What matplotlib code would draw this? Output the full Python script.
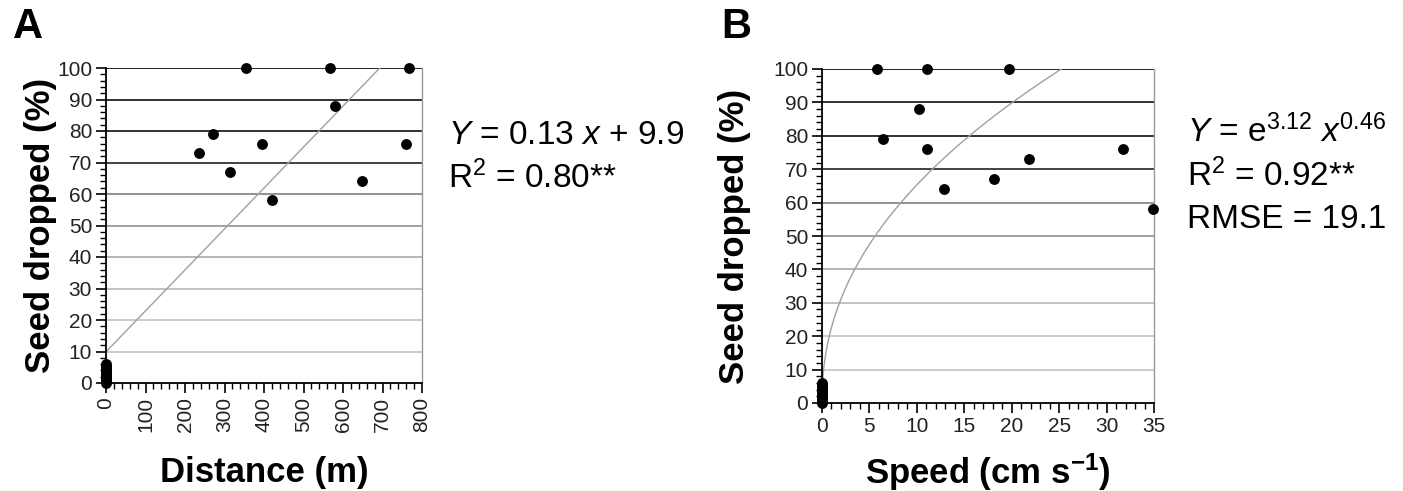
import numpy as np
import matplotlib.pyplot as plt
from matplotlib.ticker import MultipleLocator

plt.rcParams['font.family'] = ['Liberation Sans', 'DejaVu Sans']
plt.rcParams['mathtext.fontset'] = 'custom'
plt.rcParams['mathtext.rm'] = 'Liberation Sans'
plt.rcParams['mathtext.it'] = 'Liberation Sans:italic'
plt.rcParams['mathtext.bf'] = 'Liberation Sans:bold'

# panel A: distance travelled vs seed dropped
dist_x = [354, 567, 766, 581, 236, 270, 314, 394, 419, 649, 759,
          0, 0, 0, 0, 0, 0, 0, 0, 0, 0, 0, 0, 0]
dist_y = [100, 100, 100, 88, 73, 79, 67, 76, 58, 64, 76,
          0, 0.5, 1, 1.5, 2, 2.5, 3, 3.5, 4, 4.5, 5, 5.5, 6]
lin_slope, lin_icpt = 0.13, 9.9

# panel B: speed vs seed dropped
speed_x = [5.8, 11.1, 19.7, 10.25, 6.4, 11.1, 12.9, 18.1, 21.8, 31.7, 34.85,
           0, 0, 0, 0, 0, 0, 0, 0, 0, 0, 0, 0, 0]
speed_y = [100, 100, 100, 88, 79, 76, 64, 67, 73, 76, 58,
           0, 0.5, 1, 1.5, 2, 2.5, 3, 3.5, 4, 4.5, 5, 5.5, 6]
pow_a, pow_b = 3.12, 0.46

grid_levels = [10, 20, 30, 40, 50, 60, 70, 80, 90, 100]
grid_colors = ['#c8c8c8', '#c8c8c8', '#bdbdbd', '#b0b0b0', '#9a9a9a',
               '#8a8a8a', '#333333', '#222222', '#222222', '#111111']

fig = plt.figure(figsize=(14.03, 4.91), dpi=100)
axA = fig.add_axes([106 / 1403, 1 - 383 / 491, 316 / 1403, 315 / 491])
axB = fig.add_axes([822 / 1403, 1 - 403 / 491, 332 / 1403, 334 / 491])


def style_axes(ax, xmax, xmajor, xminor, ypad):
    ax.set_xlim(0, xmax)
    ax.set_ylim(0, 100)
    for lev, col in zip(grid_levels, grid_colors):
        ax.axhline(lev, color=col, lw=1.3, zorder=1)
    ax.spines['top'].set_visible(False)
    ax.spines['right'].set_color('#999999')
    ax.spines['right'].set_linewidth(1.0)
    ax.spines['left'].set_linewidth(1.3)
    ax.spines['bottom'].set_linewidth(1.3)
    ax.xaxis.set_major_locator(MultipleLocator(xmajor))
    ax.xaxis.set_minor_locator(MultipleLocator(xminor))
    ax.yaxis.set_major_locator(MultipleLocator(10))
    ax.yaxis.set_minor_locator(MultipleLocator(2))
    ax.tick_params(which='major', length=7, width=1.2, labelsize=15,
                   labelcolor='#222222', pad=3)
    ax.tick_params(which='minor', length=4, width=1.0)
    ax.set_ylabel('Seed dropped (%)', fontsize=25, fontweight='bold', labelpad=ypad)


# panel A
style_axes(axA, 800, 100, 20, 0)
xs = np.array([0, (100 - lin_icpt) / lin_slope])
axA.plot(xs, lin_slope * xs + lin_icpt, color='#a0a0a0', lw=1.0, zorder=2)
axA.plot(dist_x, dist_y, 'o', color='black', ms=6.8, clip_on=False, zorder=3)
axA.tick_params(axis='x', labelrotation=90)
axA.set_xlabel('Distance (m)', fontsize=25, fontweight='bold', labelpad=17)

# panel B
style_axes(axB, 35, 5, 1, 16)
xc = np.linspace(0, (100 / np.exp(pow_a)) ** (1 / pow_b), 300)
axB.plot(xc, np.exp(pow_a) * xc ** pow_b, color='#a0a0a0', lw=1.0, zorder=2)
axB.plot(speed_x, speed_y, 'o', color='black', ms=6.8, clip_on=False, zorder=3)
axB.set_xlabel('Speed (cm s$^{\\mathbf{-1}}$)', fontsize=25, fontweight='bold', labelpad=11)

# panel letters
fig.text(28 / 1403, 1 - 27 / 491, 'A', fontsize=30, fontweight='bold', ha='center', va='center')
fig.text(736 / 1403, 1 - 27 / 491, 'B', fontsize=30, fontweight='bold', ha='center', va='center')

# equations
fs = 24
fig.text(448 / 1403, 1 - 135 / 491, r'$\mathit{Y}$ = 0.13 $\mathit{x}$ + 9.9', fontsize=fs, va='center')
fig.text(448 / 1403, 1 - 178 / 491, 'R$^{2}$ = 0.80**', fontsize=fs, va='center')
fig.text(1187 / 1403, 1 - 132 / 491, r'$\mathit{Y}$ = e$^{3.12}$ $\mathit{x}^{0.46}$', fontsize=fs, va='center')
fig.text(1187 / 1403, 1 - 176 / 491, 'R$^{2}$ = 0.92**', fontsize=fs, va='center')
fig.text(1187 / 1403, 1 - 220 / 491, 'RMSE = 19.1', fontsize=fs, va='center')

fig.savefig('out.png', dpi=100)
